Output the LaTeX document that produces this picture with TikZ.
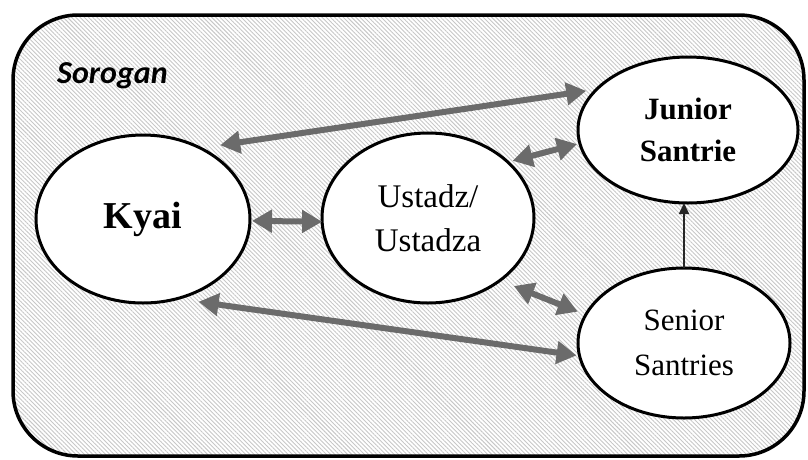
\documentclass[tikz,border=0pt]{standalone}
\usepackage{fontspec}
\setmainfont{Liberation Serif}
\newfontfamily\nodefont{Liberation Serif}
\newfontfamily\sorofont{Carlito}
\usetikzlibrary{arrows.meta,shapes.geometric,patterns.meta}
\begin{document}
\begin{tikzpicture}[x=1pt,y=-1pt,
  frame/.style={draw=black,line width=3.5pt,rounded corners=65pt,pattern={Lines[angle=-45,distance=3pt,line width=0.9pt]},pattern color=black!22},
  actor/.style={ellipse,draw=black,fill=white,line width=3pt,inner sep=0pt,outer sep=0pt,align=center},
  link/.style={draw=black!58,line width=6pt,{Triangle[length=20pt,width=22pt]}-{Triangle[length=20pt,width=22pt]}},
  upline/.style={draw=black!85,line width=1.8pt,-{Triangle[length=11pt,width=10pt]}}
]
\useasboundingbox (0,0) rectangle (808,459);
\path[frame] (13,15) rectangle (804,456);

\node[font=\sorofont\fontsize{32}{36}\selectfont\bfseries\itshape,anchor=base west,inner sep=0pt] (title) at (57,83) {Sorogan};

\node[actor,minimum width=214pt,minimum height=168pt,font=\nodefont\fontsize{38}{44}\selectfont\bfseries] (K) at (143,219) {Kyai};
\node[actor,minimum width=212pt,minimum height=170pt,font=\nodefont\fontsize{33}{44}\selectfont] (U) at (428,218) {Ustadz/\\Ustadza};
\node[actor,minimum width=220pt,minimum height=146pt,font=\nodefont\fontsize{31}{42}\selectfont\bfseries] (J) at (688,130) {Junior\\Santrie};
\node[actor,minimum width=212pt,minimum height=150pt,font=\nodefont\fontsize{31}{45}\selectfont] (S) at (684,343) {Senior\\Santries};

\draw[link,shorten <=20pt,shorten >=10.6pt] (K.51.2) -- (J.156.9);
\draw[link,shorten <=2pt] (K.-1.6) -- (U.182.2);
\draw[link,shorten <=5pt,shorten >=3pt] (U.35.8) -- (J.187.5);
\draw[link,shorten <=15pt,shorten >=8.6pt] (U.-41.8) -- (S.164.9);
\draw[link,shorten <=22pt,shorten >=3pt] (K.-67.4) -- (S.187.9);
\draw[upline] (S.north) -- (S.north |- J.south);
\end{tikzpicture}
\end{document}
